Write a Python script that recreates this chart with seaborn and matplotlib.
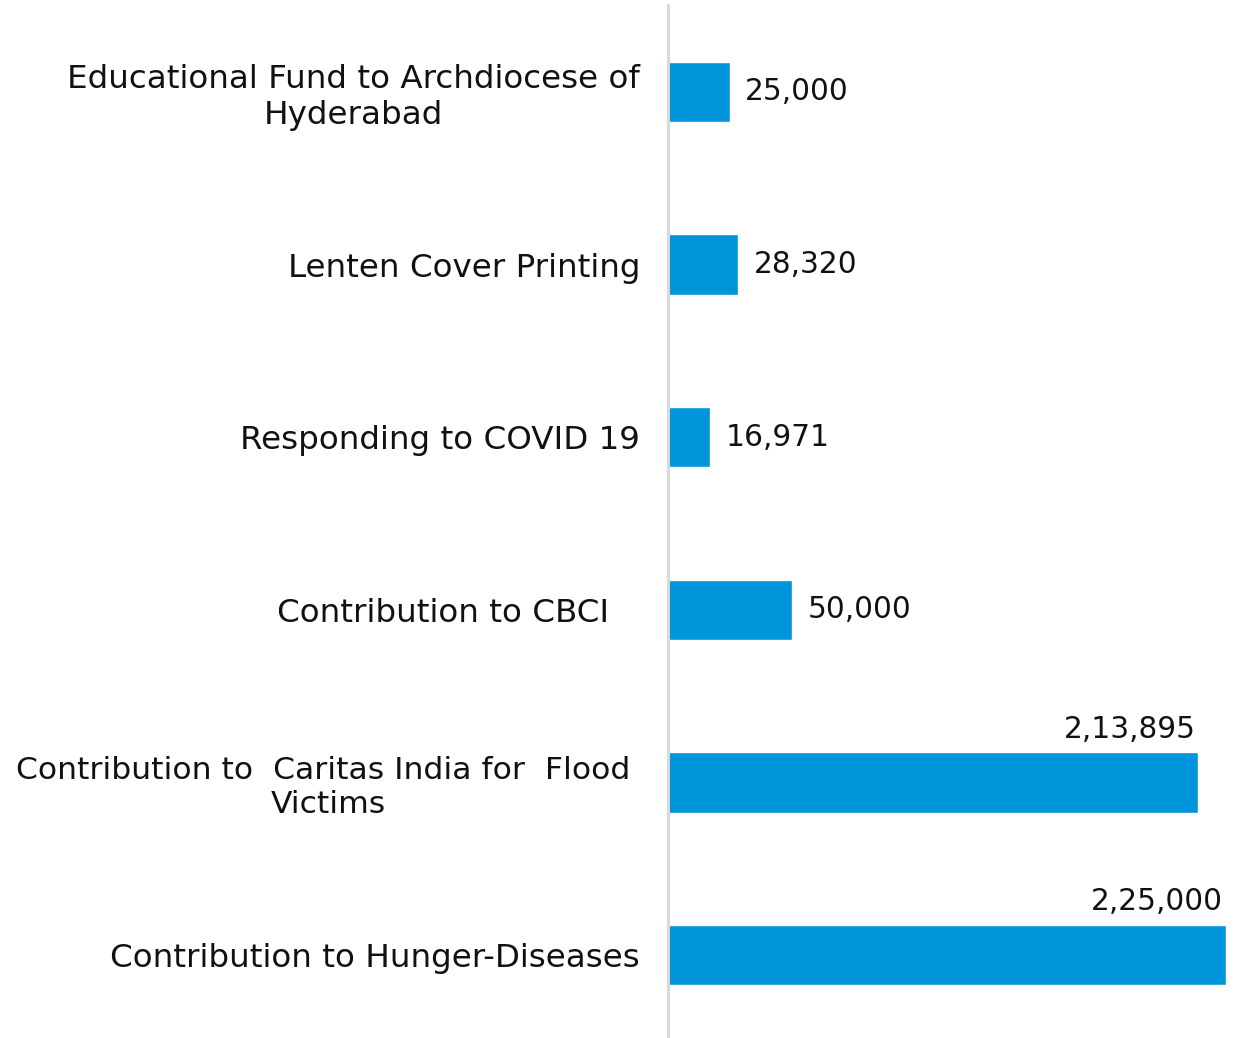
import matplotlib
matplotlib.use("Agg")
import matplotlib.pyplot as plt
import seaborn as sns
import pandas as pd

categories = [
    "Educational Fund to Archdiocese of\nHyderabad",
    "Lenten Cover Printing",
    "Responding to COVID 19",
    "Contribution to CBCI   ",
    "Contribution to  Caritas India for  Flood \nVictims",
    "Contribution to Hunger-Diseases",
]
values = [25000, 28320, 16971, 50000, 213895, 225000]
value_labels = ["25,000", "28,320", "16,971", "50,000", "2,13,895", "2,25,000"]
inside_top = [False, False, False, False, True, True]

BAR_COLOR = "#0095DA"
FONT = "DejaVu Sans"
FS_CAT = 23.4
FS_VAL = 21.3
TXT = "#111111"

sns.set_theme(style="white")
plt.rcParams["font.family"] = [FONT]

df = pd.DataFrame({"cat": categories, "val": values})

fig = plt.figure(figsize=(12.37, 10.38), dpi=100)
ax = fig.add_axes([668 / 1237, 0.0, 1 - 668 / 1237, 1 - 5 / 1038])

sns.barplot(data=df, y="cat", x="val", orient="h", color=BAR_COLOR,
            width=0.35, saturation=1, ax=ax)

ax.set_xlim(0, 229500)
ax.set_ylim(5.481, -0.504)
ax.set_xlabel("")
ax.set_ylabel("")
ax.set_xticks([])
for s in ["top", "right", "bottom"]:
    ax.spines[s].set_visible(False)
ax.spines["left"].set_color("#D9D9D9")
ax.spines["left"].set_linewidth(2.2)
ax.tick_params(axis="y", length=0, pad=20)
for t in ax.get_yticklabels():
    t.set_fontsize(FS_CAT)
    t.set_color(TXT)
    t.set_multialignment("center")
    if "Caritas" in t.get_text():
        t.set_fontsize(22.6)

for i, (v, lab, top) in enumerate(zip(values, value_labels, inside_top)):
    if top:
        ax.annotate(lab, xy=(v, i - 0.175), xytext=(-2, 6), textcoords="offset points",
                    ha="right", va="bottom", fontsize=FS_VAL, color=TXT)
    else:
        ax.annotate(lab, xy=(v, i), xytext=(11, 0), textcoords="offset points",
                    ha="left", va="center", fontsize=FS_VAL, color=TXT)

fig.savefig("out.png", dpi=100)
